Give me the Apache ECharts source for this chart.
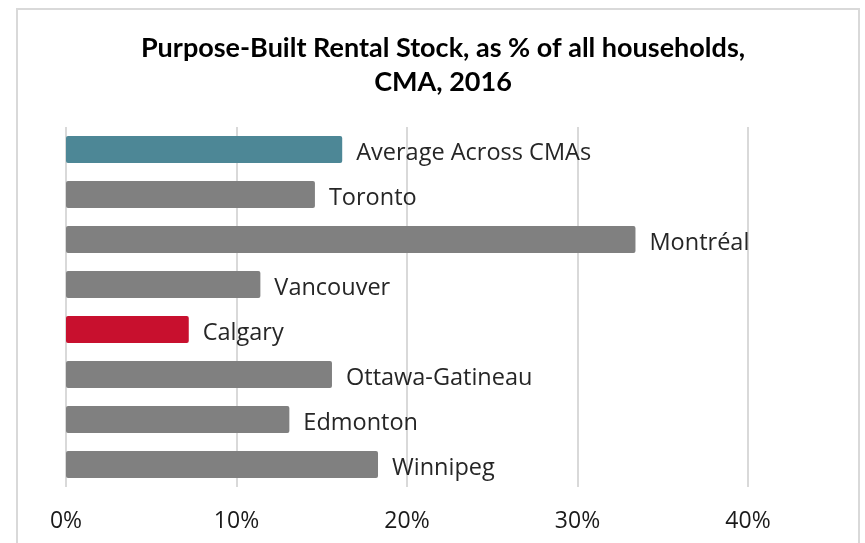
<!DOCTYPE html>
<html>
<head>
<meta charset="utf-8">
<title>Purpose-Built Rental Stock</title>
<script src="https://cdn.jsdelivr.net/npm/echarts@6/dist/echarts.min.js"></script>
<style>
  html, body { margin: 0; padding: 0; background: #fff; }
  #main { width: 865px; height: 543px; }
</style>
</head>
<body>
<div id="main"></div>
<script>
// 数据
const categories = ['Average Across CMAs', 'Toronto', 'Montréal', 'Vancouver', 'Calgary', 'Ottawa-Gatineau', 'Edmonton', 'Winnipeg'];
const shareValues = [16.2, 14.6, 33.4, 11.4, 7.2, 15.6, 13.1, 18.3];
const barColors = ['#4d8796', '#808080', '#808080', '#808080', '#c8102e', '#808080', '#808080', '#808080'];
const tickValues = [0, 10, 20, 30, 40];

const chart = echarts.init(document.getElementById('main'), null, { renderer: 'canvas' });

const option = {
  backgroundColor: '#fff',
  animation: false,
  title: {
    text: 'Purpose-Built Rental Stock, as % of all households,\nCMA, 2016',
    left: 438,
    top: 26,
    textAlign: 'center',
    textStyle: {
      fontFamily: 'Lato',
      fontWeight: 'bold',
      fontSize: 27,
      lineHeight: 34,
      color: '#000'
    }
  },
  // 外边框
  graphic: [{
    type: 'rect',
    shape: { x: 17, y: 9, width: 842, height: 560 },
    style: { fill: 'none', stroke: '#d9d9d9', lineWidth: 2 },
    silent: true
  }],
  grid: {
    left: 66,
    right: 117,
    top: 127,
    bottom: 56
  },
  xAxis: {
    type: 'value',
    min: tickValues[0],
    max: tickValues[tickValues.length - 1],
    interval: 10,
    axisLine: { show: false },
    axisTick: { show: false },
    splitLine: { show: true, lineStyle: { color: '#d9d9d9', width: 2 } },
    axisLabel: {
      formatter: '{value}%',
      margin: 23,
      fontFamily: 'Open Sans',
      fontSize: 23,
      color: '#1a1a1a'
    }
  },
  yAxis: {
    type: 'category',
    data: categories,
    inverse: true,
    axisLine: { show: false },
    axisTick: { show: false },
    axisLabel: { show: false },
    splitLine: { show: false }
  },
  series: [{
    type: 'bar',
    data: shareValues.map((v, i) => ({
      value: v,
      itemStyle: { color: barColors[i] }
    })),
    barCategoryGap: '40%',
    itemStyle: { borderRadius: 2 },
    label: {
      show: true,
      position: 'right',
      distance: 14,
      formatter: '{b}',
      fontFamily: 'Open Sans',
      fontSize: 23.5,
      color: '#262626',
      offset: [0, 4]
    }
  }]
};

chart.setOption(option);
</script>
</body>
</html>
